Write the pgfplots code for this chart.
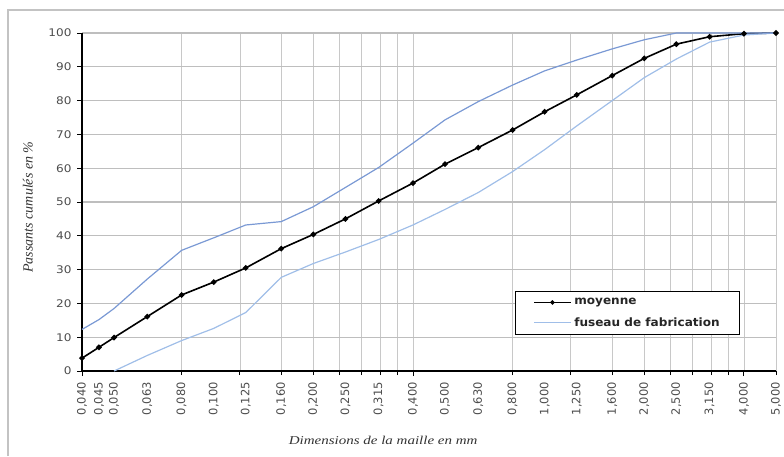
\documentclass[border=0pt]{standalone}
\usepackage{fontspec}
\setmainfont{DejaVu Sans}
\newfontfamily\tickfont[FakeStretch=1.15]{DejaVu Sans}
\newfontfamily\xtickfont{DejaVu Sans}
\newfontfamily\legfont[FakeStretch=1.05]{DejaVu Sans}
\newfontfamily\xlabfont[FakeStretch=1.25]{Liberation Serif}
\newfontfamily\ylabfont{Liberation Serif}
\usepackage{pgfplots}
\pgfplotsset{compat=1.18}
\definecolor{fuseauhaut}{RGB}{122,153,212}
\definecolor{fuseaubas}{RGB}{160,190,232}
\definecolor{grille}{RGB}{200,200,200}
\definecolor{cadre}{RGB}{195,195,195}

\begin{document}
\begin{tikzpicture}
\path[use as bounding box] (0,0) rectangle (784pt,456pt);
\draw[cadre, line width=1.5pt] (8pt,0) -- (8pt,446pt) -- (784pt,446pt);
\begin{axis}[
    at={(82pt,85pt)}, anchor=south west,
    scale only axis,
    width=694pt, height=338pt,
    xmode=log,
    xmin=0.04, xmax=5,
    ymin=0, ymax=100,
    axis x line*=bottom, axis y line*=left,
    axis line style={black, line width=1.3pt},
    clip=false,
    xtick={0.04,0.4,4},
    xticklabels={,,},
    minor xtick={0.08,0.12,0.16,0.2,0.24,0.28,0.32,0.36,0.8,1.2,1.6,2,2.4,2.8,3.2,3.6,5},
    ytick={0,10,...,100},
    tick align=outside,
    major tick length=5pt, minor tick length=4pt,
    tick style={black, line width=0.9pt},
    grid=both,
    major x grid style={grille, line width=0.8pt},
    minor x grid style={grille, line width=0.8pt},
    major y grid style={grille!95!black, line width=1.1pt},
    extra x ticks={0.04,0.045,0.05,0.063,0.08,0.1,0.125,0.16,0.2,0.25,0.315,0.4,0.5,0.63,0.8,1,1.25,1.6,2,2.5,3.15,4,5},
    extra x tick labels={{0,040},{0,045},{0,050},{0,063},{0,080},{0,100},{0,125},{0,160},{0,200},{0,250},{0,315},{0,400},{0,500},{0,630},{0,800},{1,000},{1,250},{1,600},{2,000},{2,500},{3,150},{4,000},{5,000}},
    extra x tick style={grid=none, major tick length=0pt,
        xticklabel style={rotate=90, anchor=east, xshift=-10pt, inner sep=1pt, text=black!70, font=\fontsize{11.5}{12}\selectfont\xtickfont}},
    /pgf/number format/assume math mode=true,
    yticklabel style={text=black!70, font=\fontsize{10.5}{12}\selectfont\tickfont, xshift=-2pt},
    xlabel={Dimensions de la maille en mm},
    ylabel={Passants cumulés en \%},
    xlabel style={at={(axis description cs:0.434,-0.204)}, anchor=center,
        font=\fontsize{12}{14}\selectfont\xlabfont\itshape, text=black!80},
    ylabel style={at={(axis description cs:-0.078,0.485)}, anchor=center,
        font=\fontsize{14}{16}\selectfont\ylabfont\itshape, text=black!80},
    legend style={at={(0.624,0.237)}, anchor=north west,
        draw=black, line width=1.2pt, fill=white,
        inner xsep=18pt, inner ysep=5pt, row sep=7pt,
        font=\fontsize{11.5}{13}\selectfont\legfont\bfseries, text=black!85},
    legend cell align=left,
    legend image code/.code={
        \draw[mark repeat=2, mark phase=2, mark size=1.3pt, #1] plot coordinates {(0pt,0pt) (18pt,0pt) (37pt,0pt)};
    },
]
\addplot[black, line width=1.6pt, mark=*, mark size=1.9pt] coordinates {
    (0.04,3.8) (0.045,7.0) (0.05,9.9) (0.063,16.1) (0.08,22.5) (0.1,26.3)
    (0.125,30.5) (0.16,36.2) (0.2,40.4) (0.25,45.0) (0.315,50.3) (0.4,55.6)
    (0.5,61.2) (0.63,66.1) (0.8,71.3) (1,76.7) (1.25,81.7) (1.6,87.4)
    (2,92.5) (2.5,96.7) (3.15,98.9) (4,99.8) (5,100)
};
\addlegendentry{moyenne}
\addplot[fuseaubas, line width=1.2pt] coordinates {
    (0.05,0) (0.063,4.6) (0.08,9.0) (0.1,12.6) (0.125,17.3) (0.16,27.7)
    (0.2,31.8) (0.25,35.2) (0.315,38.9) (0.4,43.2) (0.5,47.8) (0.63,52.8)
    (0.8,59.0) (1,65.5) (1.25,72.5) (1.6,80.0) (2,86.8) (2.5,92.3)
    (3.15,97.3) (4,99.4) (5,100)
};
\addlegendentry{fuseau de fabrication}
\addplot[fuseauhaut, line width=1.2pt, forget plot] coordinates {
    (0.04,12.3) (0.045,15.2) (0.05,18.5) (0.063,27.2) (0.08,35.7) (0.1,39.4)
    (0.125,43.2) (0.16,44.2) (0.2,48.6) (0.25,54.3) (0.315,60.2) (0.4,67.4)
    (0.5,74.3) (0.63,79.7) (0.8,84.6) (1,88.8) (1.25,92.0) (1.6,95.3)
    (2,98.0) (2.5,100) (3.15,100) (4,100) (5,100)
};
\end{axis}
\end{tikzpicture}
\end{document}
